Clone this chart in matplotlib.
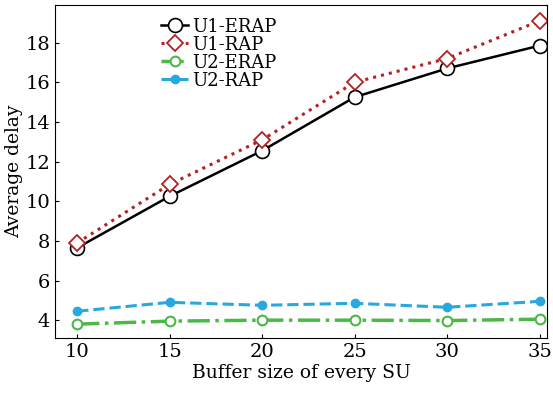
import numpy as np
import matplotlib.pyplot as plt

plt.rcParams['font.family'] = ['DejaVu Serif']

buffer_size = [10, 15, 20, 25, 30, 35]
u1_erap = [7.65, 10.25, 12.55, 15.25, 16.7, 17.85]
u1_rap = [7.9, 10.85, 13.1, 16.0, 17.2, 19.1]
u2_erap = [3.8, 3.95, 4.0, 4.0, 3.98, 4.05]
u2_rap = [4.45, 4.9, 4.75, 4.85, 4.65, 4.95]

fig = plt.figure(figsize=(5.53, 3.95), dpi=100)
ax = fig.add_axes([55/553, 57/395, 492/553, 333/395])

ax.plot(buffer_size, u1_erap, color='black', linestyle='-', linewidth=1.8,
        marker='o', markersize=10, markerfacecolor='white', markeredgecolor='black',
        markeredgewidth=1.2, label='U1-ERAP')
ax.plot(buffer_size, u1_rap, color='#b22222', linestyle=':', linewidth=2.2,
        marker='D', markersize=8, markerfacecolor='white', markeredgecolor='#b22222',
        markeredgewidth=1.3, label='U1-RAP')
ax.plot(buffer_size, u2_erap, color='#4cb848', linestyle='-.', linewidth=2.5,
        marker='o', markersize=7, markerfacecolor='white', markeredgecolor='#4cb848',
        markeredgewidth=1.5, label='U2-ERAP')
ax.plot(buffer_size, u2_rap, color='#29a8df', linestyle='--', linewidth=2.2,
        marker='o', markersize=6, markerfacecolor='#29a8df', markeredgecolor='#29a8df',
        label='U2-RAP')

ax.set_xlim(8.8, 35.4)
ax.set_ylim(3.1, 19.9)
ax.set_xticks(buffer_size)
ax.set_yticks([4, 6, 8, 10, 12, 14, 16, 18])
ax.tick_params(labelsize=14, direction='in', length=3)
ax.set_xlabel('Buffer size of every SU', fontsize=13.5, labelpad=2)
ax.set_ylabel('Average delay', fontsize=13.5, labelpad=2)

ax.legend(loc='upper left', bbox_to_anchor=(0.19, 1.0), frameon=False, fontsize=13,
          handlelength=1.5, handletextpad=0.2, labelspacing=0.0, borderaxespad=0.3)

fig.savefig('out.png', dpi=100)
